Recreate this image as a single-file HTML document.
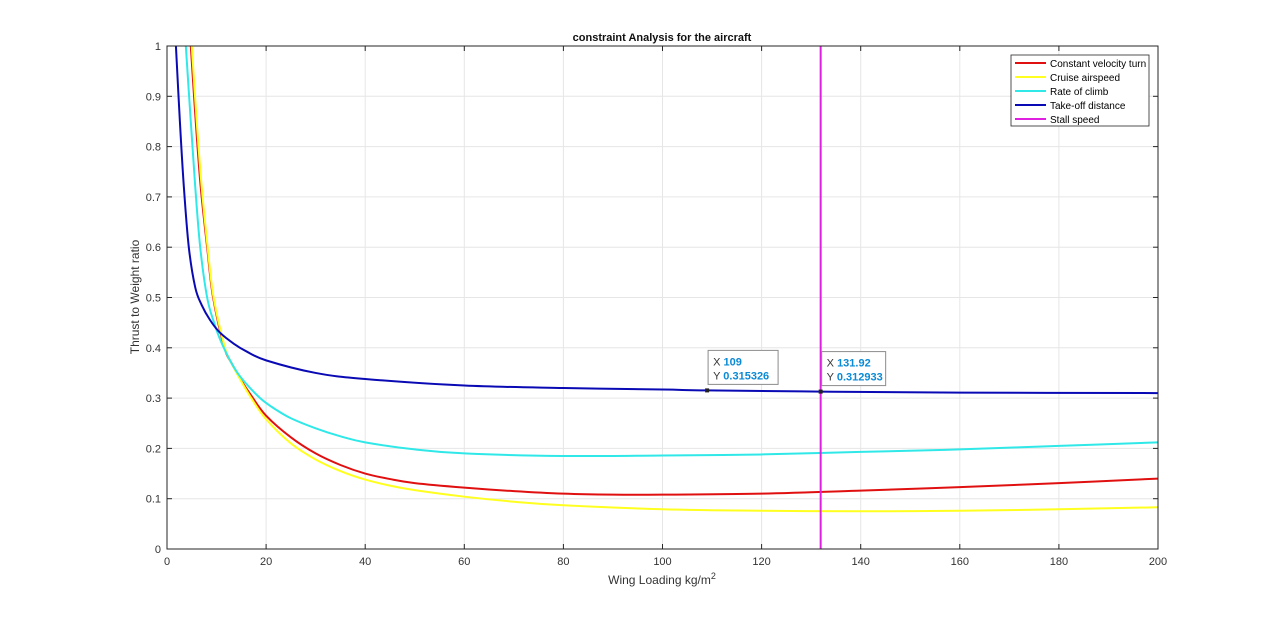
<!DOCTYPE html>
<html><head><meta charset="utf-8"><style>
html,body{margin:0;padding:0;background:#fff;}
svg{display:block;font-family:"Liberation Sans",Arial,sans-serif;}
</style></head><body>
<svg id="chart" width="1280" height="617" viewBox="0 0 1280 617">
<defs><clipPath id="pc"><rect x="167" y="46" width="991" height="503"/></clipPath></defs>
<rect x="167" y="46" width="991" height="503" fill="#fff" stroke="none"/>
<g id="grid"></g>
<g id="series" clip-path="url(#pc)"></g>
<rect x="167" y="46" width="991" height="503" fill="none" stroke="#262626" stroke-width="1"/>
<g id="ticks"></g>
<text x="662" y="41" text-anchor="middle" font-size="11" font-weight="bold" fill="#111">constraint Analysis for the aircraft</text>
<text x="662" y="584" text-anchor="middle" font-size="12" fill="#333">Wing Loading kg/m<tspan dy="-5" font-size="9">2</tspan></text>
<text transform="translate(139,297) rotate(-90)" text-anchor="middle" font-size="12" fill="#333">Thrust to Weight ratio</text>
<g id="tips"></g>
<g id="legend">
<rect x="1011" y="55" width="138" height="71" fill="#fff" stroke="#262626" stroke-width="0.8"/>
</g>
</svg>
<script>
const xTicks=[0,20,40,60,80,100,120,140,160,180,200];
const yTicks=[0,0.1,0.2,0.3,0.4,0.5,0.6,0.7,0.8,0.9,1];
const yTickLabels=["0","0.1","0.2","0.3","0.4","0.5","0.6","0.7","0.8","0.9","1"];
const seriesNames=["Constant velocity turn","Cruise airspeed","Rate of climb","Take-off distance","Stall speed"];
const seriesColors=["#e01010","#ffff20","#30e8e8","#0a0ab4","#e020e0"];
const turnX=[4.8,5.8,6.8,8.1,9.3,11.6,13,15,17,20,25,30,35,40,45,50,60,70,80,90,100,120,140,160,180,200];
const turnY=[1,0.85,0.72,0.6,0.5,0.4,0.37,0.335,0.305,0.265,0.222,0.19,0.167,0.15,0.139,0.131,0.122,0.115,0.11,0.108,0.108,0.11,0.116,0.123,0.131,0.14];
const cruiseX=[5,6,7,8.2,9.4,11.7,13,15,17,20,25,30,35,40,45,50,60,70,80,100,120,140,160,180,200];
const cruiseY=[1,0.85,0.72,0.6,0.5,0.4,0.37,0.333,0.3,0.258,0.21,0.178,0.155,0.138,0.126,0.117,0.104,0.094,0.087,0.079,0.076,0.075,0.076,0.079,0.083];
const climbX=[3.8,4.8,5.7,6.7,8.1,9.5,11,13,15,18.8,22,25,30,35,40,50,60,80,100,120,140,160,180,200];
const climbY=[1,0.85,0.72,0.6,0.5,0.45,0.41,0.37,0.34,0.3,0.277,0.26,0.24,0.224,0.212,0.198,0.19,0.185,0.186,0.188,0.193,0.198,0.205,0.212];
const takeoffX=[1.8,2.6,3.4,4.4,5.7,7,8.7,10.7,13.5,16,20,30,40,60,80,100,109,132,160,200];
const takeoffY=[1,0.85,0.72,0.6,0.52,0.485,0.455,0.43,0.408,0.393,0.375,0.35,0.338,0.325,0.32,0.317,0.315326,0.312933,0.311,0.31];
const stallX=131.92;
const tipX=[109,131.92];
const tipY=[0.315326,0.312933];
const tipXLabels=["109","131.92"];
const tipYLabels=["0.315326","0.312933"];

const NS="http://www.w3.org/2000/svg";
const X0=167,X1=1158,Y0=549,Y1=46;
function sx(v){return X0+(v-0)/(200-0)*(X1-X0);}
function sy(v){return Y0-(v-0)/(1-0)*(Y0-Y1);}
function mk(tag,attrs,parent){const e=document.createElementNS(NS,tag);for(const k in attrs)e.setAttribute(k,attrs[k]);parent.appendChild(e);return e;}
const grid=document.getElementById('grid'),ticks=document.getElementById('ticks'),series=document.getElementById('series'),tips=document.getElementById('tips'),legend=document.getElementById('legend');

xTicks.forEach((t,i)=>{
  const g=mk('line',{x1:sx(t),x2:sx(t),y1:Y1,y2:Y0,stroke:'#e6e6e6','stroke-width':1},grid);
  
  
  mk('line',{x1:sx(t),x2:sx(t),y1:Y0,y2:Y0-5,stroke:'#262626'},ticks);
  mk('line',{x1:sx(t),x2:sx(t),y1:Y1,y2:Y1+5,stroke:'#262626'},ticks);
  const tx=mk('text',{x:sx(t),y:Y0+16,'text-anchor':'middle','font-size':11,fill:'#333'},ticks);
  tx.textContent=String(t);
  
  
});
yTicks.forEach((t,i)=>{
  const g=mk('line',{x1:X0,x2:X1,y1:sy(t),y2:sy(t),stroke:'#e6e6e6','stroke-width':1},grid);
  
  
  mk('line',{x1:X0,x2:X0+5,y1:sy(t),y2:sy(t),stroke:'#262626'},ticks);
  mk('line',{x1:X1,x2:X1-5,y1:sy(t),y2:sy(t),stroke:'#262626'},ticks);
  const tx=mk('text',{x:X0-6,y:sy(t)+4,'text-anchor':'end','font-size':11,fill:'#333'},ticks);
  tx.textContent=yTickLabels[i];
  
  
});
function line(xs,ys,color,name){
  const P=xs.map((x,i)=>[sx(x),sy(ys[i])]);
  let d='M'+P[0][0].toFixed(2)+','+P[0][1].toFixed(2);
  for(let i=0;i<P.length-1;i++){
    const p0=P[Math.max(0,i-1)],p1=P[i],p2=P[i+1],p3=P[Math.min(P.length-1,i+2)];
    const c1=[p1[0]+(p2[0]-p0[0])/6,p1[1]+(p2[1]-p0[1])/6];
    const c2=[p2[0]-(p3[0]-p1[0])/6,p2[1]-(p3[1]-p1[1])/6];
    d+='C'+c1[0].toFixed(2)+','+c1[1].toFixed(2)+' '+c2[0].toFixed(2)+','+c2[1].toFixed(2)+' '+p2[0].toFixed(2)+','+p2[1].toFixed(2);
  }
  const p=mk('path',{d:d,fill:'none',stroke:color,'stroke-width':2,'stroke-linejoin':'round'},series);
  
  
}
line(turnX,turnY,seriesColors[0],'constant-velocity-turn-line');
line(cruiseX,cruiseY,seriesColors[1],'cruise-airspeed-line');
line(climbX,climbY,seriesColors[2],'rate-of-climb-line');
line(takeoffX,takeoffY,seriesColors[3],'takeoff-distance-line');
const st=mk('line',{x1:sx(stallX),x2:sx(stallX),y1:Y1,y2:Y0,stroke:seriesColors[4],'stroke-width':2},series);



tipX.forEach((x,i)=>{
  const px=sx(x),py=sy(tipY[i]);
  const g=mk('g',{},tips);
  
  
  mk('rect',{x:px+1,y:py-40,width:i?64:70,height:34,fill:'#fff',stroke:'#8c8c8c','stroke-width':1},g);
  const t1=mk('text',{x:px+6,y:py-25,'font-size':11,fill:'#333'},g);
  t1.innerHTML='X <tspan fill="#0a8ad6" font-weight="bold">'+tipXLabels[i]+'</tspan>';
  const t2=mk('text',{x:px+6,y:py-11,'font-size':11,fill:'#333'},g);
  t2.innerHTML='Y <tspan fill="#0a8ad6" font-weight="bold">'+tipYLabels[i]+'</tspan>';
  mk('rect',{x:px-2,y:py-2,width:4,height:4,fill:'#222'},g);
});

seriesNames.forEach((n,i)=>{
  const y=63+i*14;
  const g=mk('g',{},legend);
  
  
  mk('line',{x1:1015,x2:1046,y1:y,y2:y,stroke:seriesColors[i],'stroke-width':2},g);
  const t=mk('text',{x:1050,y:y+4,'font-size':10,fill:'#000'},g);
  t.textContent=n;
});
</script>
</body></html>
